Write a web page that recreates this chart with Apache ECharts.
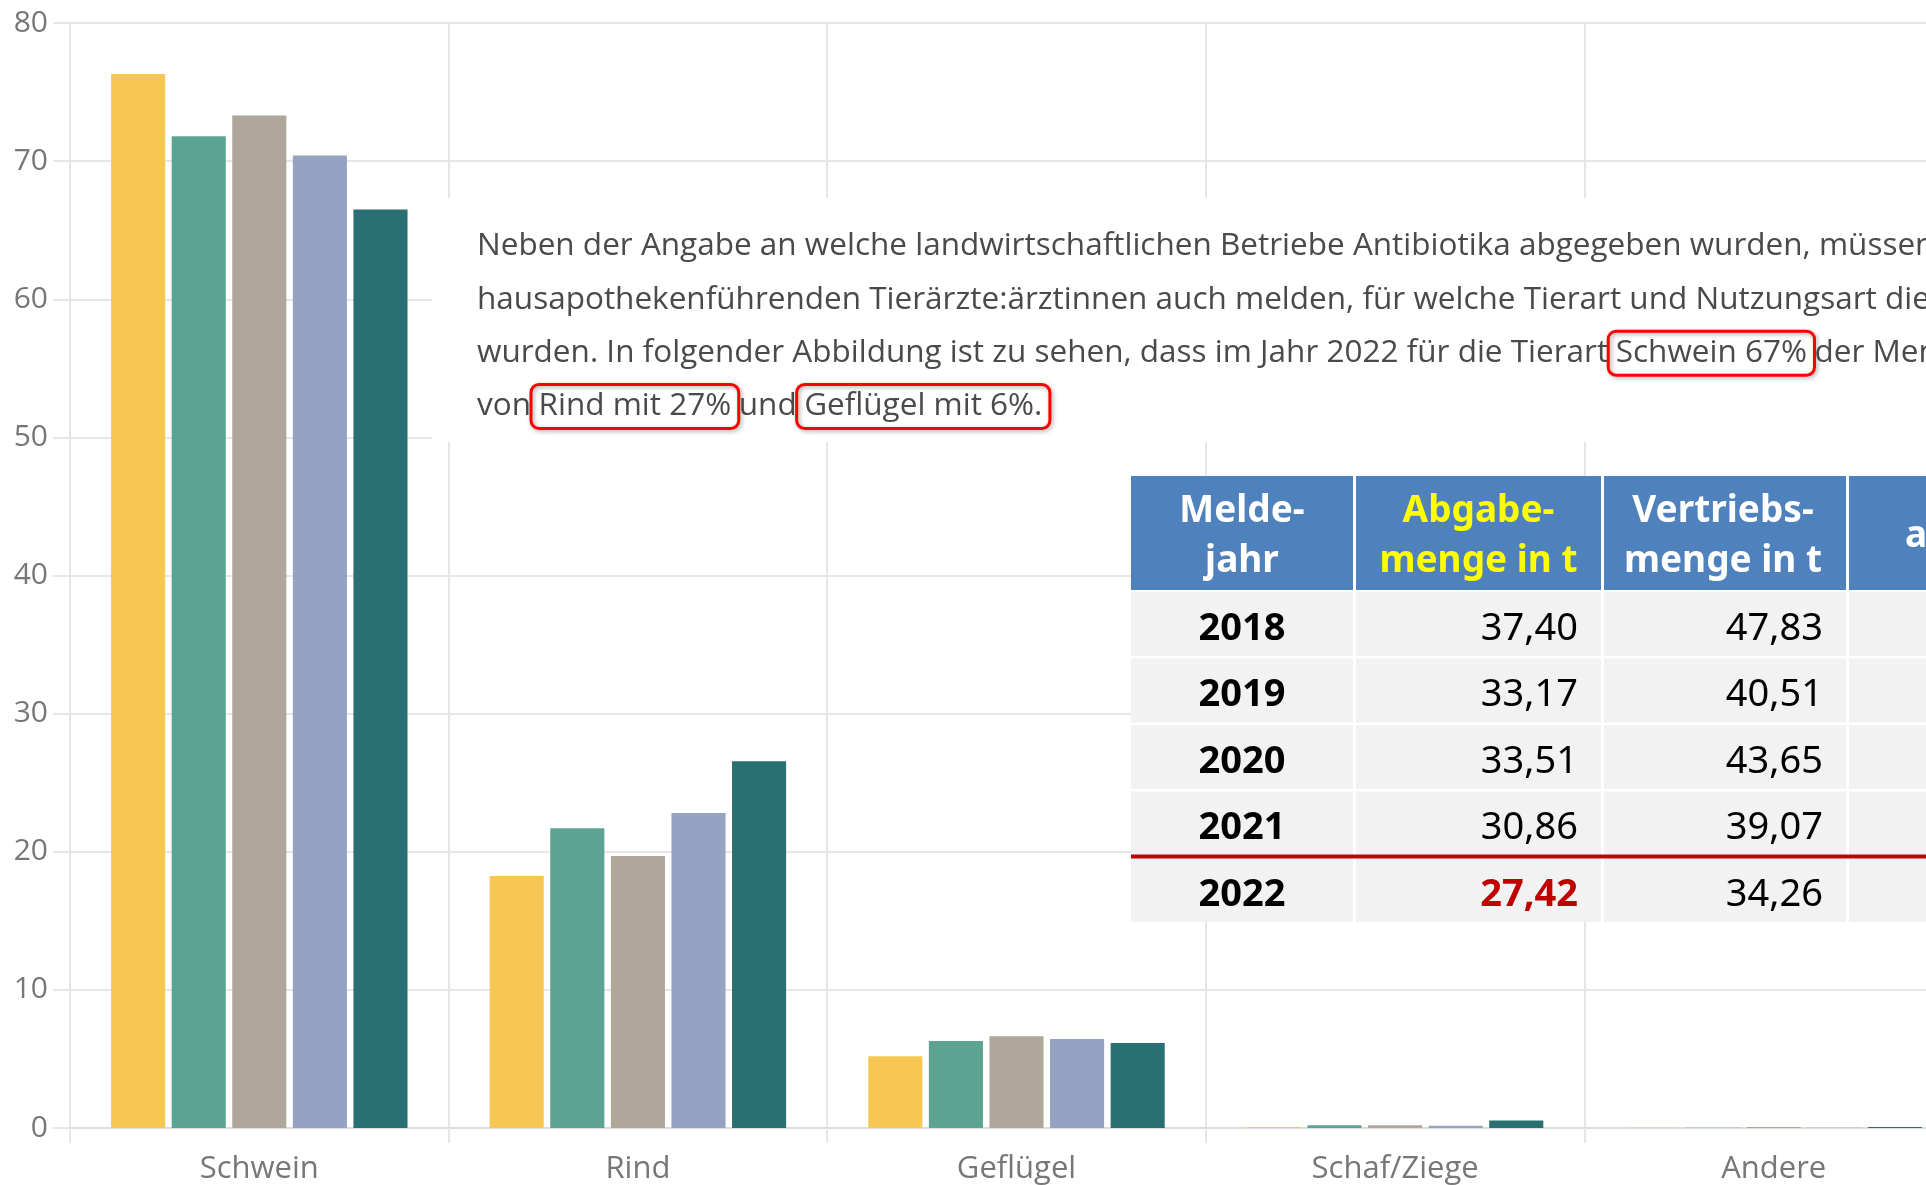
<!DOCTYPE html>
<html><head><meta charset="utf-8">
<script src="https://cdn.jsdelivr.net/npm/echarts@6/dist/echarts.min.js"></script>
<style>html,body{margin:0;padding:0;background:#fff;overflow:hidden}#c{width:1970px;height:1185px}</style>
</head><body><div id="c"></div>
<script>
// ---- chart data ----
const categories = ['Schwein', 'Rind', 'Geflügel', 'Schaf/Ziege', 'Andere'];
const seriesNames = ['2018', '2019', '2020', '2021', '2022'];
const v2018 = [76.3, 18.25, 5.2, 0.08, 0.02];
const v2019 = [71.8, 21.7, 6.3, 0.2, 0.02];
const v2020 = [73.3, 19.7, 6.65, 0.2, 0.08];
const v2021 = [70.4, 22.8, 6.45, 0.17, 0.02];
const v2022 = [66.5, 26.55, 6.15, 0.55, 0.08];
const yMin = 0, yMax = 80, yStep = 10;
const barColors = ['#F6C853', '#5CA392', '#AEA79A', '#96A2C2', '#2A7073'];

// ---- inset table data ----
const tableHeaders = [['Melde-', 'jahr'], ['Abgabe-', 'menge in t'], ['Vertriebs-', 'menge in t'], ['a']];
const tableYears = ['2018', '2019', '2020', '2021', '2022'];
const tableAbgabe = [37.40, 33.17, 33.51, 30.86, 27.42];
const tableVertrieb = [47.83, 40.51, 43.65, 39.07, 34.26];

// ---- annotation text ----
const paraLines = [
  'Neben der Angabe an welche landwirtschaftlichen Betriebe Antibiotika abgegeben wurden, müssen',
  'hausapothekenführenden Tierärzte:ärztinnen auch melden, für welche Tierart und Nutzungsart diese',
  'wurden. In folgender Abbildung ist zu sehen, dass im Jahr 2022 für die Tierart{hl|Schwein 67%}der Menge',
  'von{hl|Rind mit 27%}und{hl|Geflügel mit 6%.}'
];

const allValues = [v2018, v2019, v2020, v2021, v2022];
const fmt = v => v.toFixed(2).replace('.', ',');

const gridCol = '#e6e6e6';
const labelFont = 'Open Sans';
const paraSize = 31.5;

const g = [];
// white panel behind paragraph
g.push({type: 'rect', z: 100, shape: {x: 432, y: 198, width: 1540, height: 244}, style: {fill: '#fff'}});
const paraBaseY = [246.5, 299.8, 353.2, 406.5];
paraLines.forEach((t, i) => {
  g.push({
    type: 'text', z: 101, x: 477, y: paraBaseY[i],
    style: {
      text: t, fill: '#4a4a4a', fontSize: paraSize, fontFamily: labelFont,
      align: 'left', verticalAlign: 'middle',
      rich: {
        hl: {
          fill: '#4a4a4a', fontSize: paraSize, fontFamily: labelFont,
          borderColor: '#f00', borderWidth: 3, borderRadius: 8,
          padding: [6, 7.5, 6, 7.5], lineHeight: 31,
          shadowBlur: 4, shadowColor: 'rgba(0,0,0,0.35)', shadowOffsetX: 1.5, shadowOffsetY: 1.5
        }
      }
    }
  });
});

// table
const colX = [1131, 1356, 1604, 1849];
const colW = [222, 245, 242, 140];
const tTop = 476, hdrH = 114;
g.push({type: 'rect', z: 100, shape: {x: 1131, y: tTop, width: 840, height: 446}, style: {fill: '#fff'}});
const hdrFill = ['#fff', '#FFFF00', '#fff', '#fff'];
colX.forEach((x, c) => {
  g.push({type: 'rect', z: 101, shape: {x: x, y: tTop, width: colW[c], height: hdrH}, style: {fill: '#4F81BD'}});
  const lines = tableHeaders[c];
  lines.forEach((ln, k) => {
    const cy = lines.length === 1 ? tTop + 60 : tTop + 35 + k * 50;
    g.push({type: 'text', z: 102, x: c === 3 ? 1905 : x + colW[c] / 2 + (c === 2 ? -2 : 0), y: cy,
      style: {text: ln, fill: hdrFill[c], fontSize: 37, fontWeight: 'bold', fontFamily: 'Noto Sans',
        align: c === 3 ? 'left' : 'center', verticalAlign: 'middle'}});
  });
});
tableYears.forEach((yr, r) => {
  const top = 592 + r * 66.5;
  colX.forEach((x, c) => {
    g.push({type: 'rect', z: 101, shape: {x: x, y: top, width: colW[c], height: 64}, style: {fill: '#F2F2F2'}});
  });
  const ty = top + 37;
  const last = r === tableYears.length - 1;
  g.push({type: 'text', z: 102, x: 1242, y: ty, style: {text: yr, fill: '#000', fontSize: 38, fontWeight: 'bold', fontFamily: 'Noto Sans', align: 'center', verticalAlign: 'middle'}});
  g.push({type: 'text', z: 102, x: 1578, y: ty, style: {text: fmt(tableAbgabe[r]), fill: last ? '#C00000' : '#000', fontSize: 38, fontWeight: last ? 'bold' : 'normal', fontFamily: 'Noto Sans', align: 'right', verticalAlign: 'middle'}});
  g.push({type: 'text', z: 102, x: 1823, y: ty, style: {text: fmt(tableVertrieb[r]), fill: '#000', fontSize: 38, fontFamily: 'Noto Sans', align: 'right', verticalAlign: 'middle'}});
});
g.push({type: 'rect', z: 103, shape: {x: 1131, y: 854.5, width: 840, height: 4}, style: {fill: '#C00000'}});

const chart = echarts.init(document.getElementById('c'), null, {renderer: 'canvas'});
chart.setOption({
  animation: false,
  backgroundColor: '#fff',
  grid: {left: 70, top: 23, bottom: 57, right: 7, containLabel: false},
  xAxis: {
    type: 'category', data: categories, boundaryGap: true,
    axisLine: {show: true, lineStyle: {color: '#dcdcdc', width: 2}},
    axisTick: {show: true, length: 15, lineStyle: {color: gridCol, width: 2}},
    splitLine: {show: true, lineStyle: {color: gridCol, width: 2}},
    axisLabel: {fontSize: 31, color: '#777', fontFamily: labelFont, margin: 26}
  },
  yAxis: {
    type: 'value', min: yMin, max: yMax, interval: yStep,
    axisLine: {show: true, lineStyle: {color: gridCol, width: 2}},
    axisTick: {show: true, length: 17, lineStyle: {color: gridCol, width: 2}},
    splitLine: {show: true, lineStyle: {color: gridCol, width: 2}},
    axisLabel: {fontSize: 30, color: '#777', fontFamily: labelFont, margin: 22}
  },
  series: seriesNames.map((n, i) => ({
    name: n, type: 'bar', data: allValues[i],
    barCategoryGap: '21.7%', barGap: '12%',
    itemStyle: {color: barColors[i]}
  })),
  graphic: {elements: g}
});
</script></body></html>
